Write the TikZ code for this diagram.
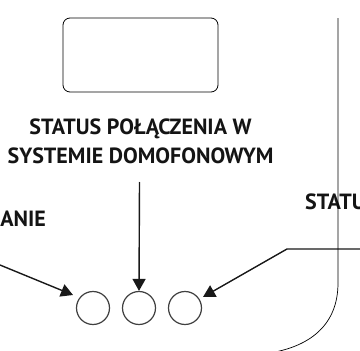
\documentclass[tikz,border=0pt]{standalone}
\usepackage{fontspec}
\setmainfont{PT Sans}
\usetikzlibrary{arrows.meta, positioning}

\begin{document}
\begin{tikzpicture}[x=1pt, y=-1pt,
                label/.style={font=\bfseries\fontsize{22}{29}\selectfont, text=black!92, align=center, inner sep=0pt},
                led/.style={draw, circle, minimum size=33pt, inner sep=0pt, line width=1.2pt, draw=black!75},
                pointer/.style={-{Triangle[length=12pt, width=13pt]}, line width=1.4pt, black!90}]
                \useasboundingbox (0,0) rectangle (360,351);
                \node (screen) [draw, rounded corners=7pt, minimum width=155pt, minimum height=74pt, line width=0.8pt] at (140.5,55) {};
                \node (led1) [led] at (93,308) {};
                \node (led2) [led] at (139,308) {};
                \node (led3) [led] at (185,308) {};
                \node (conn) [label, anchor=base] at (140.5,163) {STATUS POŁĄCZENIA W\\SYSTEMIE DOMOFONOWYM};
                \node (power) [label, anchor=base east] at (46,226) {ZASILANIE};
                \node (other) [label, anchor=base west] at (305,209) {STATUS};
                \coordinate (powerfoot) at (0,265);
                \coordinate (connfoot)  at (139.5,182);
                \coordinate (otherfoot) at (360,249);
                \coordinate (otherbend) at (287,249);
                \draw[pointer] (connfoot) -- (led2.north);
                \draw[pointer] (powerfoot) -- (73,295);
                \draw[pointer] (otherfoot) -- (otherbend) -- (203,297);
                \draw[line width=0.7pt] (338,18) -- (338,283) .. controls (338,325) and (310,345) .. (275,352);
            \end{tikzpicture}
\end{document}
